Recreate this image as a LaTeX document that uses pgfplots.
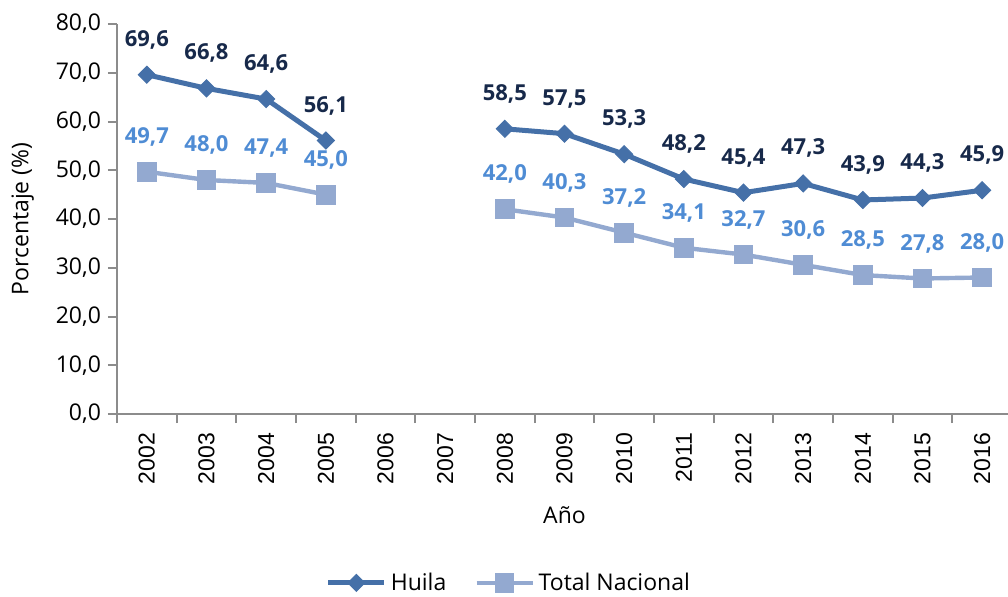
\documentclass[border=0pt]{standalone}
\usepackage{fontspec}
\setmainfont{Open Sans}
\newfontfamily\arialfont{Liberation Sans}
\usepackage{pgfplots}
\pgfplotsset{compat=1.18}
\definecolor{HuilaLine}{HTML}{4570A8}
\definecolor{HuilaText}{HTML}{17294A}
\definecolor{NacLine}{HTML}{93A9D0}
\definecolor{NacText}{HTML}{4F8CD4}
\definecolor{AxisGray}{HTML}{8C8C8C}

\begin{document}
\begin{tikzpicture}
\begin{axis}[
    name=ax,
    scale only axis,
    width=447.5pt, height=195pt,
    xmin=-0.5, xmax=14.5,
    ymin=0, ymax=80,
    ytick={0,10,...,80},
    xtick={0,...,14},
    xticklabels={2002,2003,2004,2005,2006,2007,2008,2009,2010,2011,2012,2013,2014,2015,2016},
    major x tick style={draw=none},
    minor xtick={-0.5,0.5,...,14.5},
    axis x line*=bottom,
    axis y line*=left,
    tick align=outside,
    major tick length=4.5pt,
    minor tick length=4.5pt,
    tick style={AxisGray, line width=1pt},
    axis line style={AxisGray, line width=1pt},
    unbounded coords=jump,
    /pgf/number format/assume math mode=true,
    /pgf/number format/use comma,
    /pgf/number format/fixed,
    /pgf/number format/fixed zerofill,
    /pgf/number format/precision=1,
    yticklabel style={font=\fontsize{11.5}{13}\selectfont, black},
    xticklabel style={font=\arialfont\fontsize{11.5}{13}\selectfont, rotate=90, anchor=east, black},
    xticklabel shift=1.5pt,
    ylabel={Porcentaje (\%)},
    xlabel={Año},
    every axis y label/.style={at={(axis description cs:-0.1054,0.5)}, rotate=90, anchor=center, font=\fontsize{11.5}{13}\selectfont},
    every axis x label/.style={at={(axis description cs:0.5,-0.259)}, anchor=center, font=\fontsize{11.5}{13}\selectfont},
    legend style={at={(0.439,-0.433)}, anchor=center, draw=none, legend columns=2,
        font=\fontsize{11.5}{13}\selectfont,
        /tikz/every even column/.append style={column sep=12pt}},
    legend image code/.code={\draw[mark repeat=2, mark phase=2, #1] plot coordinates {(0pt,0pt) (14pt,0pt) (28pt,0pt)};},
    clip=false,
]
\addplot[HuilaLine, line width=2.5pt, mark=square*, mark size=3pt,
    mark options={rotate=45, solid, line width=0.5pt, fill=HuilaLine},
    nodes near coords,
    every node near coord/.append style={anchor=center, yshift=17.5pt, HuilaText, font=\fontsize{11}{12}\selectfont\bfseries}]
coordinates {
    (0,69.6) (1,66.8) (2,64.6) (3,56.1) (4,nan) (5,nan)
    (6,58.5) (7,57.5) (8,53.3) (9,48.2) (10,45.4) (11,47.3)
    (12,43.9) (13,44.3) (14,45.9)
};
\addlegendentry{Huila}
\addplot[NacLine, line width=2.2pt, mark=square*, mark size=4.7pt,
    mark options={solid, line width=0.5pt, fill=NacLine},
    nodes near coords,
    every node near coord/.append style={anchor=center, yshift=17.5pt, NacText, font=\fontsize{11}{12}\selectfont\bfseries}]
coordinates {
    (0,49.7) (1,48.0) (2,47.4) (3,45.0) (4,nan) (5,nan)
    (6,42.0) (7,40.3) (8,37.2) (9,34.1) (10,32.7) (11,30.6)
    (12,28.5) (13,27.8) (14,28.0)
};
\addlegendentry{Total Nacional}
\end{axis}
\pgfresetboundingbox
\path ([shift={(-58.5pt,-91pt)}]ax.south west) rectangle ([shift={(445.5pt,207pt)}]ax.south west);
\end{tikzpicture}
\end{document}
